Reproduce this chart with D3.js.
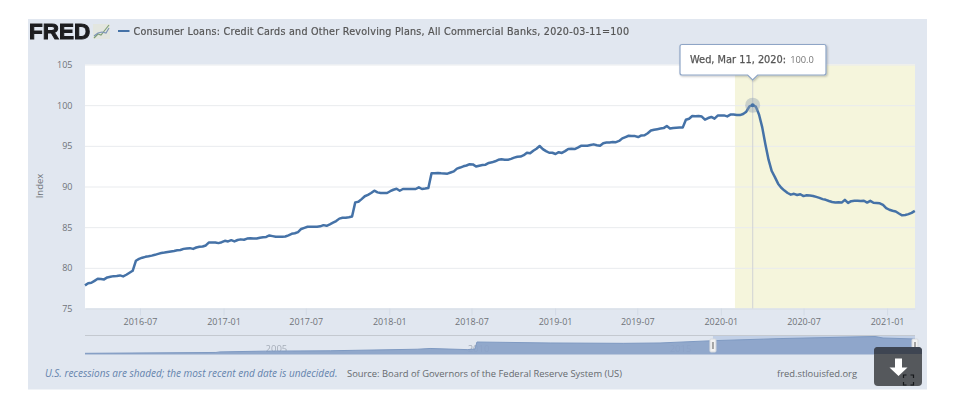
<!DOCTYPE html>
<html><head><meta charset="utf-8">
<script src="https://cdn.jsdelivr.net/npm/d3@7"></script>
<style>
html,body{margin:0;padding:0;background:#fff;}
svg{display:block;filter:blur(0.55px);}
text{font-family:"Open Sans",sans-serif;}
</style></head><body>
<script>
const startDate = "2016-03-02";
const endDate = "2021-03-03";
const recessionStart = "2020-02-01";
const highlightDate = "2020-03-11";
const titleText = "Consumer Loans: Credit Cards and Other Revolving Plans, All Commercial Banks, 2020-03-11=100";
const tooltipDate = "Wed, Mar 11, 2020:";
const tooltipValue = "100.0";
const yTicks = [75,80,85,90,95,100,105];
const xTicks = ["2016-07","2017-01","2017-07","2018-01","2018-07","2019-01","2019-07","2020-01","2020-07","2021-01"];
const weeklyIndex = [
77.84,78.1,78.16,78.4,78.65,78.62,78.58,78.82,78.9,78.98,
79.0,79.07,78.95,79.15,79.4,79.64,80.87,81.1,81.25,81.35,
81.42,81.5,81.6,81.72,81.82,81.88,81.95,82.02,82.08,82.15,
82.2,82.33,82.38,82.42,82.33,82.5,82.6,82.62,82.75,83.12,
83.1,83.12,83.04,83.15,83.32,83.25,83.4,83.25,83.42,83.5,
83.45,83.6,83.65,83.62,83.6,83.7,83.75,83.8,83.98,83.9,
83.82,83.82,83.82,83.85,84.0,84.18,84.25,84.4,84.78,84.92,
85.05,85.05,85.06,85.05,85.1,85.25,85.17,85.35,85.55,85.75,
86.05,86.16,86.16,86.22,86.3,88.05,88.12,88.45,88.8,88.97,
89.2,89.48,89.28,89.2,89.2,89.2,89.42,89.6,89.72,89.48,
89.69,89.7,89.7,89.68,89.69,89.9,89.69,89.75,89.82,91.62,
91.62,91.65,91.62,91.6,91.58,91.72,91.86,92.2,92.33,92.48,
92.58,92.74,92.72,92.46,92.56,92.65,92.68,92.9,92.97,93.1,
93.28,93.36,93.3,93.28,93.4,93.55,93.66,93.68,93.85,94.15,
94.08,94.4,94.65,94.98,94.6,94.35,94.15,94.15,94.0,94.22,
94.13,94.35,94.62,94.64,94.6,94.78,95.0,95.0,95.02,95.1,
95.18,95.08,95.0,95.32,95.4,95.42,95.46,95.45,95.6,95.92,
96.08,96.24,96.22,96.2,96.08,96.28,96.3,96.55,96.88,96.98,
97.05,97.12,97.18,97.44,97.14,97.2,97.23,97.24,97.24,98.2,
98.33,98.66,98.64,98.68,98.6,98.22,98.42,98.55,98.34,98.72,
98.72,98.74,98.62,98.84,98.84,98.78,98.78,98.92,99.2,99.85,
100,99.82,98.85,97.3,95.2,93.3,91.9,91.15,90.35,89.85,
89.5,89.2,89.0,89.1,88.95,89.05,88.82,88.92,88.88,88.84,
88.72,88.6,88.45,88.36,88.22,88.1,88.04,88.05,88.02,88.36,
87.98,88.2,88.24,88.26,88.22,88.25,88.02,88.24,88.0,87.98,
87.94,87.75,87.34,87.14,87.02,86.92,86.68,86.46,86.5,86.6,
86.76,87.0];
const navYears = [2000.63,2003.87,2003.97,2005.09,2006.7,2008.85,2009.17,2010.09,2010.28,2010.33,2012.14,2013.95,2014.86,2016.17,2017.83,2020.18,2020.38,2021.17];
const navValues = [11.5,16,19,23,25,33,37,31,34,71,66,64,66,78,89,100,92,87];
const navLabels = [2005,2010,2015];
const navSelected = [2016.17,2021.17];
const footNote = "U.S. recessions are shaded; the most recent end date is undecided.";
const footSource = "Source: Board of Governors of the Federal Reserve System (US)";
const footSite = "fred.stlouisfed.org";

const parseDay = d3.utcParse("%Y-%m-%d"), parseMonth = d3.utcParse("%Y-%m");
const t0 = parseDay(startDate);
const series = weeklyIndex.map((v,i)=>({date:d3.utcDay.offset(t0,i*7),value:v}));

const svg = d3.select("body").append("svg").attr("width",960).attr("height",412);
const defs = svg.append("defs");
const sh = defs.append("filter").attr("id","sh").attr("x","-10%").attr("y","-20%").attr("width","120%").attr("height","150%");
sh.append("feDropShadow").attr("dx",1).attr("dy",1).attr("stdDeviation",1).attr("flood-color","#000").attr("flood-opacity",0.25);

svg.append("rect").attr("x",28).attr("y",19).attr("width",899).attr("height",370.5).attr("fill","#e1e7f0");

const x = d3.scaleUtc().domain([t0,parseDay(endDate)]).range([85,914.8]);
const y = d3.scaleLinear().domain([75,105]).range([308.5,64.5]);
const plotL=85, plotR=915;

svg.append("rect").attr("x",plotL).attr("y",y(105)).attr("width",plotR-plotL).attr("height",y(75)-y(105)).attr("fill","#fff");
const rx = x(parseDay(recessionStart));
svg.append("rect").attr("x",rx).attr("y",y(105)).attr("width",plotR-rx).attr("height",y(75)-y(105)).attr("fill","#f5f5dc");

// y axis
const yAxis = svg.append("g").attr("transform",`translate(${plotL},0)`)
  .call(d3.axisLeft(y).tickValues(yTicks).tickSize(-(plotR-plotL)).tickPadding(12.5));
yAxis.select(".domain").remove();
yAxis.selectAll("line").attr("stroke","#e9ebee").attr("stroke-width",1);
yAxis.selectAll("text").attr("fill","#6f7378").style("font-size","9px").style("font-family",'"Open Sans",sans-serif');
svg.append("text").attr("transform","translate(43,186) rotate(-90)").attr("text-anchor","middle")
  .attr("fill","#6f7378").style("font-size","9.5px").text("Index");

// x axis
const xAxis = svg.append("g").attr("transform","translate(0,308.5)")
  .call(d3.axisBottom(x).tickValues(xTicks.map(parseMonth)).tickFormat(d3.utcFormat("%Y-%m")).tickSizeInner(7).tickSizeOuter(0).tickPadding(3));
xAxis.select(".domain").attr("stroke","#d3dbe6");
xAxis.selectAll("line").attr("stroke","#d3dbe6");
xAxis.selectAll("text").attr("fill","#6f7378").style("font-size","9px").style("font-family",'"Open Sans",sans-serif');

// crosshair
const hx = x(parseDay(highlightDate));
svg.append("line").attr("x1",hx).attr("x2",hx).attr("y1",y(105)).attr("y2",y(75)).attr("stroke","#d6d8d6").attr("stroke-width",1.2);

// main line
const line = d3.line().x(d=>x(d.date)).y(d=>y(d.value));
svg.append("path").datum(series).attr("d",line).attr("fill","none").attr("stroke","#4572a7").attr("stroke-width",2.5).attr("stroke-linejoin","round");
svg.append("circle").attr("cx",hx).attr("cy",y(100)).attr("r",7.5).attr("fill","#8a9bb0").attr("opacity",0.4);
svg.append("circle").attr("cx",hx).attr("cy",y(100)).attr("r",2).attr("fill","#4572a7");

// navigator
const nx = d3.scaleLinear().domain([2000.63,2021.17]).range([85,915]);
const ny = d3.scaleLinear().domain([0,100]).range([355.5,336.5]);
const navTop=335.5, navBot=354.5;
const navData = navYears.map((t,i)=>({t,v:navValues[i]}));
const navArea = d3.area().x(d=>nx(d.t)).y0(navBot).y1(d=>ny(d.v));
const sx0=nx(navSelected[0]), sx1=nx(navSelected[1]);
svg.append("rect").attr("x",sx0).attr("y",navTop).attr("width",sx1-sx0).attr("height",navBot-navTop).attr("fill","#c2d0e6");
svg.selectAll(".navl").data(navLabels).join("text").attr("class","navl")
  .attr("x",d=>nx(d)+4).attr("y",352).attr("fill","#7e8794").attr("opacity",0.6).style("font-size","9.5px").text(d=>d);
svg.append("path").datum(navData).attr("d",navArea).attr("fill","#8ba3c8").attr("fill-opacity",0.93);
svg.append("path").datum(navData).attr("d",d3.line().x(d=>nx(d.t)).y(d=>ny(d.v))).attr("fill","none").attr("stroke","#7f9ac2").attr("stroke-width",1);
svg.append("line").attr("x1",plotL).attr("x2",plotR).attr("y1",navTop).attr("y2",navTop).attr("stroke","#c4c9d0");
svg.append("line").attr("x1",plotL).attr("x2",plotR).attr("y1",navBot).attr("y2",navBot).attr("stroke","#b9c7dc");
[sx0,sx1].forEach(h=>{
  svg.append("rect").attr("x",h-3).attr("y",339).attr("width",6).attr("height",13).attr("rx",1)
    .attr("fill","#f2f2f2").attr("stroke","#d5d9de");
  svg.append("line").attr("x1",h).attr("x2",h).attr("y1",342).attr("y2",349).attr("stroke","#a5a5a5").attr("stroke-width",2);
});

// footer
svg.append("text").attr("x",45).attr("y",376.5).attr("fill","#6584ad").style("font-size","10px").style("font-style","italic").text(footNote);
svg.append("text").attr("x",347).attr("y",376.5).attr("fill","#666a6e").style("font-size","9.4px").text(footSource);
svg.append("text").attr("x",777).attr("y",376.5).attr("fill","#666a6e").style("font-size","9.4px").text(footSite);

// download button
svg.append("rect").attr("x",874).attr("y",347).attr("width",48).attr("height",39).attr("rx",4).attr("fill","#55585c");
svg.append("path").attr("d","M874,354V351a4,4 0 0 1 4,-4H918a4,4 0 0 1 4,4V354Z").attr("fill","#3e4552");
svg.append("path").attr("d","M895,358.5h7v9h5.5l-9,8.5l-9,-8.5h5.5Z").attr("fill","#fff");
svg.append("path").attr("d","M903.5,378v-3h3 M910.5,375h3v3 M913.5,382v3h-3 M906.5,385h-3v-3").attr("fill","none").attr("stroke","#15171a").attr("stroke-width",1.2);

// tooltip
svg.append("path").attr("d",`M682,44.5H824a2,2 0 0 1 2,2V73a2,2 0 0 1 -2,2H${hx+5}L${hx},80L${hx-5},75H682a2,2 0 0 1 -2,-2V46.5a2,2 0 0 1 2,-2Z`)
  .attr("fill","#fff").attr("stroke","#8ea5c6").attr("stroke-width",1.2).attr("filter","url(#sh)");
const tip = svg.append("text").attr("x",690).attr("y",63).style("font-size","9.8px").style("font-family",'"DejaVu Sans",sans-serif');
tip.append("tspan").attr("fill","#555").attr("stroke","#555").attr("stroke-width",0.25).text(tooltipDate);
tip.append("tspan").attr("fill","#777").attr("dx",4).style("font-size","9.3px").style("font-family",'"Open Sans",sans-serif').text(tooltipValue);

// logo & title
svg.append("text").attr("x",29).attr("y",39).attr("fill","#1d1d1f").attr("stroke","#1d1d1f").attr("stroke-width",1)
  .style("font-family",'"Liberation Sans",sans-serif').style("font-weight","700").style("font-size","22.5px").text("FRED");
svg.append("rect").attr("x",93).attr("y",24).attr("width",17).attr("height",15).attr("fill","#e3e6df");
svg.append("path").attr("d","M94,38L98,34L101,35L105,30L109,25").attr("fill","none").attr("stroke","#7f9f76").attr("stroke-width",1.2);
svg.append("path").attr("d","M94,36L98,33L102,32L106,33L109,28").attr("fill","none").attr("stroke","#7d95b6").attr("stroke-width",1.2);
svg.append("line").attr("x1",118).attr("x2",129.5).attr("y1",31).attr("y2",31).attr("stroke","#4572a7").attr("stroke-width",2);
svg.append("text").attr("x",133.5).attr("y",35).attr("fill","#555").attr("stroke","#555").attr("stroke-width",0.2).style("font-size","9.6px").style("letter-spacing","0.235px")
  .style("font-family",'"DejaVu Sans",sans-serif').text(titleText);
</script>
</body></html>
